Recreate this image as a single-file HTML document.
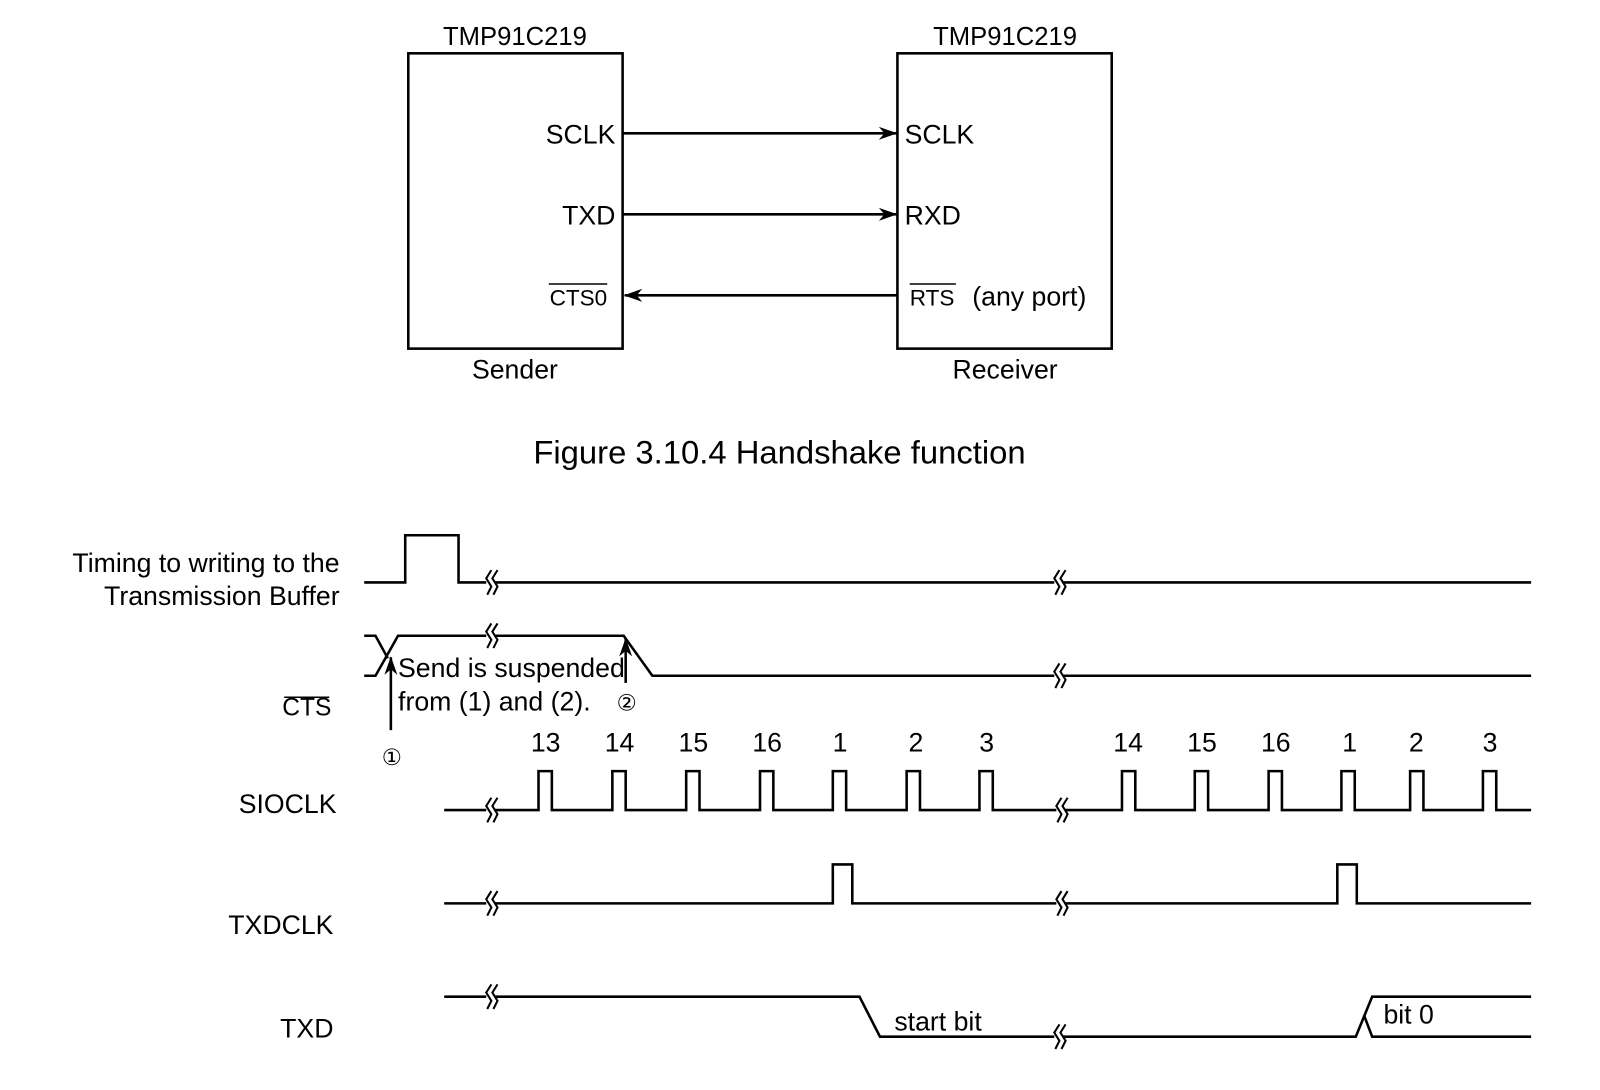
<!DOCTYPE html>
<html><head><meta charset="utf-8"><style>
html,body{margin:0;padding:0;background:#fff;}
svg{display:block;}
text{font-family:"Liberation Sans",Arial,sans-serif;fill:#000;}
</style></head><body>
<svg width="1600" height="1090" viewBox="0 0 1560 1063" xmlns="http://www.w3.org/2000/svg">
<defs>
<marker id="ah" viewBox="0 0 20 14" refX="19" refY="7" markerWidth="18" markerHeight="13" markerUnits="userSpaceOnUse" orient="auto">
<path d="M0,0 L20,7 L0,14 L6,7 Z" fill="#000"/>
</marker>
<g id="brk" fill="none" stroke="#000" stroke-width="2">
<rect x="-4" y="-3" width="8" height="6" fill="#fff" stroke="none"/>
<path d="M1,-12 L-4,-4 L1,4 L-3,12"/>
<path d="M7,-12 L2,-4 L7,4 L3,12"/>
</g>
</defs>
<g fill="none" stroke="#000" stroke-width="2.5">
<rect x="398" y="52" width="209" height="288"/>
<rect x="875" y="52" width="209" height="288"/>
<line x1="607" y1="130" x2="874" y2="130" marker-end="url(#ah)"/>
<line x1="607" y1="209" x2="874" y2="209" marker-end="url(#ah)"/>
<line x1="875" y1="288" x2="609" y2="288" marker-end="url(#ah)"/>
</g>
<g font-size="26">
<text x="502" y="44" text-anchor="middle" font-size="25">TMP91C219</text>
<text x="980" y="44" text-anchor="middle" font-size="25">TMP91C219</text>
<text x="600" y="140" text-anchor="end">SCLK</text>
<text x="600" y="219" text-anchor="end">TXD</text>
<text x="882" y="140">SCLK</text>
<text x="882" y="219">RXD</text>
<text x="948" y="298">(any port)</text>
<text x="502" y="369" text-anchor="middle">Sender</text>
<text x="980" y="369" text-anchor="middle">Receiver</text>
</g>
<text x="592" y="298" text-anchor="end" font-size="22">CTS0</text>
<line x1="535" y1="277" x2="592" y2="277" stroke="#000" stroke-width="1.5"/>
<text x="887" y="298" font-size="22">RTS</text>
<line x1="887" y1="277" x2="932" y2="277" stroke="#000" stroke-width="1.5"/>
<text x="760" y="452" text-anchor="middle" font-size="32">Figure 3.10.4  Handshake function</text>

<g font-size="26">
<text x="331" y="558" text-anchor="end">Timing to writing to the</text>
<text x="331" y="590" text-anchor="end">Transmission Buffer</text>
<text x="299" y="698" text-anchor="middle" font-size="24">CTS</text>
<text x="328" y="793" text-anchor="end">SIOCLK</text>
<text x="325" y="911" text-anchor="end">TXDCLK</text>
<text x="325" y="1012" text-anchor="end">TXD</text>
<text x="388" y="660">Send is suspended</text>
<text x="388" y="693">from (1) and (2).</text>
<text x="872" y="1005">start bit</text>
<text x="1349" y="998">bit 0</text>
<text x="532" y="733" text-anchor="middle">13</text>
<text x="604" y="733" text-anchor="middle">14</text>
<text x="676" y="733" text-anchor="middle">15</text>
<text x="748" y="733" text-anchor="middle">16</text>
<text x="819" y="733" text-anchor="middle">1</text>
<text x="893" y="733" text-anchor="middle">2</text>
<text x="962" y="733" text-anchor="middle">3</text>
<text x="1100" y="733" text-anchor="middle">14</text>
<text x="1172" y="733" text-anchor="middle">15</text>
<text x="1244" y="733" text-anchor="middle">16</text>
<text x="1316" y="733" text-anchor="middle">1</text>
<text x="1381" y="733" text-anchor="middle">2</text>
<text x="1453" y="733" text-anchor="middle">3</text>
</g>
<line x1="277" y1="680" x2="321" y2="680" stroke="#000" stroke-width="1.5"/>
<text x="382" y="746" text-anchor="middle" font-size="22">①</text>
<text x="611" y="693" text-anchor="middle" font-size="22">②</text>

<g fill="none" stroke="#000" stroke-width="2.5" stroke-linejoin="miter">
<polyline points="355,568 395,568 395,522 447,522 447,568 1493,568"/>
<polyline points="355,659 366,659 388,620 608,620 636,659 1493,659"/>
<polyline points="355,620 366,620 378,642"/>
<line x1="381" y1="712" x2="381" y2="641" marker-end="url(#ah)"/>
<line x1="610" y1="666" x2="610" y2="623" marker-end="url(#ah)"/>
<polyline points="433,790 525,790 525,752 538,752 538,790 597,790 597,752 610,752 610,790 669,790 669,752 682,752 682,790 741,790 741,752 754,752 754,790 812,790 812,752 825,752 825,790 884,790 884,752 897,752 897,790 955,790 955,752 968,752 968,790 1094,790 1094,752 1107,752 1107,790 1165,790 1165,752 1178,752 1178,790 1237,790 1237,752 1250,752 1250,790 1308,790 1308,752 1321,752 1321,790 1375,790 1375,752 1388,752 1388,790 1446,790 1446,752 1459,752 1459,790 1493,790"/>
<polyline points="433,881 812,881 812,843 831,843 831,881 1304,881 1304,843 1323,843 1323,881 1493,881"/>
<polyline points="433,972 838,972 858,1011 1322,1011 1338,972 1493,972"/>
<polyline points="1330,990 1338,1011 1493,1011"/>
</g>
<use href="#brk" x="478" y="568"/>
<use href="#brk" x="1032" y="568"/>
<use href="#brk" x="478" y="620"/>
<use href="#brk" x="1032" y="659"/>
<use href="#brk" x="478" y="790"/>
<use href="#brk" x="1034" y="790"/>
<use href="#brk" x="478" y="881"/>
<use href="#brk" x="1034" y="881"/>
<use href="#brk" x="478" y="972"/>
<use href="#brk" x="1032" y="1011"/>
</svg>
</body></html>
